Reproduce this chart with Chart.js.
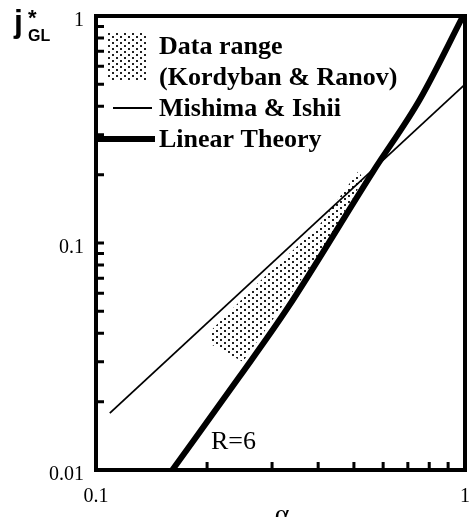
<!DOCTYPE html>
<html>
<head>
<meta charset="utf-8">
<script src="https://cdn.jsdelivr.net/npm/chart.js@4/dist/chart.umd.min.js"></script>
<style>
html, body { margin: 0; padding: 0; background: #fff; }
</style>
</head>
<body>
<canvas id="chart" width="471" height="517"></canvas>
<script>
// values
var linearX = [0.161, 0.245, 0.331, 0.564, 0.755, 0.988];
var linearY = [0.01, 0.0258, 0.0519, 0.207, 0.430, 1.0];
var mishimaX = [0.109, 1.0];
var mishimaY = [0.0178, 0.5];
var rangeX = [0.206, 0.273, 0.40, 0.515, 0.53, 0.412, 0.315, 0.25, 0.206];
var rangeY = [0.0415, 0.066, 0.118, 0.208, 0.19, 0.094, 0.051, 0.030, 0.0356];
var xTicks = [0.1, 1];
var xTickLabels = ['0.1', '1'];
var yTicks = [1, 0.1, 0.01];
var yTickLabels = ['1', '0.1', '0.01'];
var legendLabels = ['Data range', '(Kordyban & Ranov)', 'Mishima & Ishii', 'Linear Theory'];

function pts(xs, ys) {
    var out = [];
    for (var i = 0; i < xs.length; i++) out.push({x: xs[i], y: ys[i]});
    return out;
}

function stipple() {
    var c = document.createElement('canvas');
    c.width = 8; c.height = 6;
    var g = c.getContext('2d');
    g.fillStyle = '#222';
    g.fillRect(0, 0, 2, 2);
    g.fillRect(4, 3, 2, 2);
    return g.createPattern(c, 'repeat');
}
var dots = stipple();

var serif = '"Liberation Serif", "Times New Roman", serif';

var decor = {
    id: 'decor',
    afterDatasetsDraw: function (chart) {
        var ctx = chart.ctx, a = chart.chartArea;
        var xs = chart.scales.x, ys = chart.scales.y;
        ctx.save();
        ctx.strokeStyle = '#000';
        ctx.fillStyle = '#000';

        // inward ticks
        ctx.lineWidth = 3;
        ctx.beginPath();
        for (var d = 0.1; d < 1; d *= 10) {
            for (var m = 2; m <= 9; m++) {
                var px = xs.getPixelForValue(d * m);
                ctx.moveTo(px, a.bottom);
                ctx.lineTo(px, a.bottom - 8);
            }
        }
        for (var e = 0.01; e < 1; e *= 10) {
            for (var n = 1; n <= 9; n++) {
                var py = ys.getPixelForValue(e * n);
                ctx.moveTo(a.left, py);
                ctx.lineTo(a.left + 8, py);
            }
        }
        ctx.stroke();

        // frame
        ctx.lineWidth = 4;
        ctx.strokeRect(a.left, a.top, a.right - a.left, a.bottom - a.top);

        // tick labels
        ctx.font = '20px ' + serif;
        ctx.textAlign = 'right';
        ctx.textBaseline = 'middle';
        yTicks.forEach(function (v, i) {
            ctx.fillText(yTickLabels[i], a.left - 12, ys.getPixelForValue(v) + 5);
        });
        ctx.textAlign = 'center';
        ctx.textBaseline = 'top';
        xTicks.forEach(function (v, i) {
            ctx.fillText(xTickLabels[i], xs.getPixelForValue(v), a.bottom + 17);
        });

        // axis titles
        ctx.font = '28px ' + serif;
        ctx.fillText('\u03b1', 282, a.bottom + 32);
        ctx.textAlign = 'left';
        ctx.textBaseline = 'alphabetic';
        ctx.font = 'bold 32px "Liberation Sans", Arial, sans-serif';
        ctx.fillText('j', 14, 32);
        ctx.font = 'bold 22px "Liberation Sans", Arial, sans-serif';
        ctx.fillText('*', 28, 25);
        ctx.font = 'bold 16px "Liberation Sans", Arial, sans-serif';
        ctx.fillText('GL', 28, 41);

        // annotation
        ctx.font = '26px ' + serif;
        ctx.fillText('R=6', 211, 449);

        // legend
        ctx.fillStyle = '#fff';
        ctx.fillRect(108, 32, 38, 48);
        ctx.fillStyle = dots;
        ctx.fillRect(108, 32, 38, 48);
        ctx.lineWidth = 1.8;
        ctx.beginPath();
        ctx.moveTo(113, 108); ctx.lineTo(152, 108);
        ctx.stroke();
        ctx.lineWidth = 6;
        ctx.beginPath();
        ctx.moveTo(96, 139); ctx.lineTo(155, 139);
        ctx.stroke();
        ctx.fillStyle = '#000';
        ctx.font = 'bold 26px ' + serif;
        ctx.textBaseline = 'middle';
        var ly = [47, 78, 109, 140];
        legendLabels.forEach(function (t, i) {
            ctx.fillText(t, 159, ly[i]);
        });
        ctx.restore();
    }
};

var ctx = document.getElementById('chart').getContext('2d');

var chart = new Chart(ctx, {
    type: 'scatter',
    data: {
        datasets: [{
            label: 'Linear Theory',
            data: pts(linearX, linearY),
            showLine: true,
            borderColor: '#000',
            borderWidth: 6,
            pointRadius: 0,
            cubicInterpolationMode: 'monotone',
            order: 1
        }, {
            label: 'Mishima & Ishii',
            data: pts(mishimaX, mishimaY),
            showLine: true,
            borderColor: '#000',
            borderWidth: 1.8,
            pointRadius: 0,
            order: 2
        }, {
            label: 'Data range',
            data: pts(rangeX, rangeY),
            showLine: true,
            borderColor: 'rgba(0,0,0,0)',
            borderWidth: 0,
            backgroundColor: dots,
            fill: 'shape',
            pointRadius: 0,
            order: 3
        }]
    },
    options: {
        responsive: false,
        animation: false,
        layout: { padding: { left: 96, top: 16, right: 6, bottom: 47 } },
        plugins: { legend: { display: false }, tooltip: { enabled: false } },
        scales: {
            x: { type: 'logarithmic', min: 0.1, max: 1, display: false },
            y: { type: 'logarithmic', min: 0.01, max: 1, display: false }
        }
    },
    plugins: [decor]
});
</script>
</body>
</html>
